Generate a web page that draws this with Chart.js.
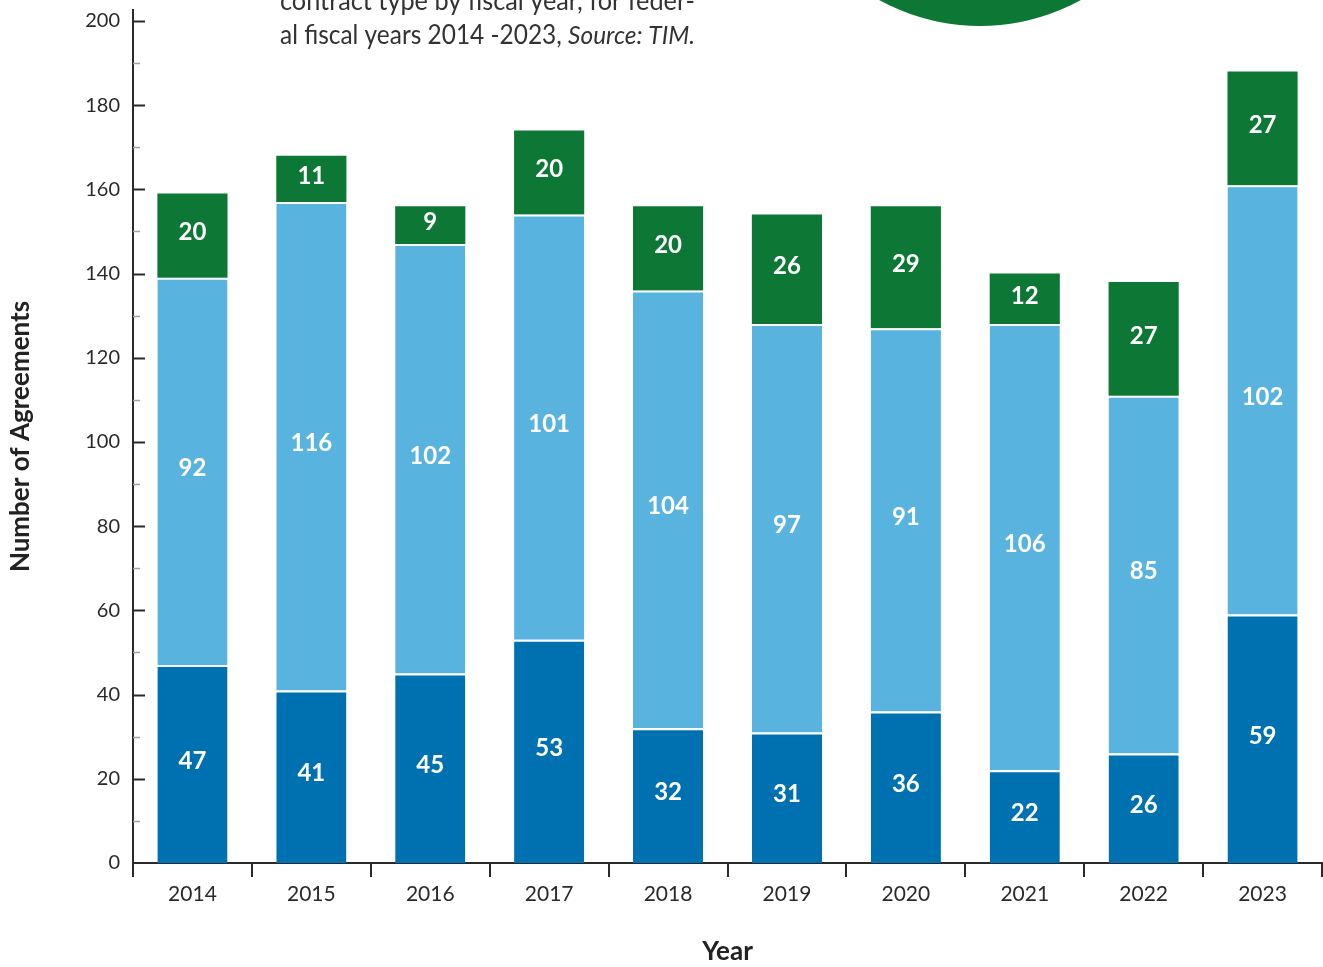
<!DOCTYPE html>
<html>
<head>
<meta charset="utf-8">
<script src="https://cdn.jsdelivr.net/npm/chart.js@4/dist/chart.umd.min.js"></script>
<style>
  html, body { margin: 0; padding: 0; background: #ffffff; }
  canvas { display: block; }
</style>
</head>
<body>
<canvas id="chart" width="1323" height="967"></canvas>
<script>
// Agreements per fiscal year, split into three contract types (stacked)
const years = ['2014', '2015', '2016', '2017', '2018', '2019', '2020', '2021', '2022', '2023'];
const typeA = [47, 41, 45, 53, 32, 31, 36, 22, 26, 59];        // bottom segment
const typeB = [92, 116, 102, 101, 104, 97, 91, 106, 85, 102];  // middle segment
const typeC = [20, 11, 9, 20, 20, 26, 29, 12, 27, 27];         // top segment
const yTicks = [0, 20, 40, 60, 80, 100, 120, 140, 160, 180, 200];

const headerLines = [
  [{ text: 'contract type by fiscal year, for feder-', italic: false }],
  [{ text: 'al fiscal years 2014 -2023, ', italic: false }, { text: 'Source: TIM.', italic: true }]
];

const DARK_BLUE = '#0071b0';
const LIGHT_BLUE = '#59b3df';
const GREEN = '#0d7836';
const FONT = 'Lato, "Open Sans", sans-serif';

// Decorative circle and caption text behind the plot
const backdrop = {
  id: 'backdrop',
  beforeDraw(chart) {
    const ctx = chart.ctx;
    ctx.save();
    ctx.fillStyle = GREEN;
    ctx.beginPath();
    ctx.arc(980, -183, 209, 0, Math.PI * 2);
    ctx.fill();

    ctx.fillStyle = '#333333';
    ctx.textBaseline = 'alphabetic';
    const baselines = [10, 44];
    const targetWidth = 415;
    headerLines.forEach((parts, i) => {
      let total = 0;
      parts.forEach(p => {
        ctx.font = (p.italic ? 'italic ' : '') + '26px ' + FONT;
        total += ctx.measureText(p.text).width;
      });
      const sx = targetWidth / total;
      ctx.save();
      ctx.translate(280, baselines[i]);
      ctx.scale(sx, 1);
      let x = 0;
      parts.forEach(p => {
        ctx.font = (p.italic ? 'italic ' : '') + '26px ' + FONT;
        ctx.fillText(p.text, x, 0);
        x += ctx.measureText(p.text).width;
      });
      ctx.restore();
    });
    ctx.restore();
  }
};

// Value labels centred in each stacked segment
const segmentLabels = {
  id: 'segmentLabels',
  afterDatasetsDraw(chart) {
    const ctx = chart.ctx;
    ctx.save();
    ctx.fillStyle = '#ffffff';
    ctx.font = 'bold 24px ' + FONT;
    ctx.textAlign = 'center';
    ctx.textBaseline = 'middle';
    chart.data.datasets.forEach((ds, di) => {
      const meta = chart.getDatasetMeta(di);
      meta.data.forEach((bar, i) => {
        const v = ds.data[i];
        const cy = (bar.y + bar.base) / 2 - 3;
        ctx.fillText(String(v), bar.x, cy);
      });
    });
    ctx.restore();
  }
};

// Major and minor tick marks on the inner side of the value axis
const innerTicks = {
  id: 'innerTicks',
  afterDraw(chart) {
    const y = chart.scales.y;
    const ctx = chart.ctx;
    const x0 = chart.chartArea.left;
    ctx.save();
    for (let v = 10; v <= 200; v += 10) {
      const py = Math.round(y.getPixelForValue(v)) + 0.5;
      const major = v % 20 === 0;
      ctx.beginPath();
      ctx.strokeStyle = major ? '#2a2a2a' : '#a0a0a0';
      ctx.lineWidth = major ? 2 : 1.5;
      ctx.moveTo(x0, py);
      ctx.lineTo(x0 + (major ? 12 : 7), py);
      ctx.stroke();
    }
    ctx.restore();
  }
};

const segBorder = { top: 2, bottom: 0, left: 0, right: 0 };

new Chart(document.getElementById('chart'), {
  type: 'bar',
  data: {
    labels: years,
    datasets: [
      { label: 'A', data: typeA, backgroundColor: DARK_BLUE, borderColor: '#ffffff', borderWidth: segBorder, borderSkipped: false },
      { label: 'B', data: typeB, backgroundColor: LIGHT_BLUE, borderColor: '#ffffff', borderWidth: segBorder, borderSkipped: false },
      { label: 'C', data: typeC, backgroundColor: GREEN, borderColor: '#ffffff', borderWidth: { top: 0, bottom: 0, left: 0, right: 0 }, borderSkipped: false }
    ]
  },
  options: {
    responsive: false,
    animation: false,
    devicePixelRatio: 1,
    layout: { padding: { top: 10, right: 1, left: 0, bottom: 0 } },
    datasets: { bar: { categoryPercentage: 1.0, barPercentage: 0.59 } },
    plugins: {
      legend: { display: false },
      tooltip: { enabled: false }
    },
    scales: {
      x: {
        stacked: true,
        grid: { display: true, drawOnChartArea: false, drawTicks: true, tickLength: 14, color: '#2a2a2a', lineWidth: 2, offset: true },
        border: { display: true, color: '#2a2a2a', width: 2 },
        ticks: { color: '#2a2a2a', font: { family: FONT, size: 21 }, padding: 5, maxRotation: 0 },
        title: { display: true, text: 'Year', color: '#222222', font: { family: FONT, size: 26, weight: 'bold' }, padding: { top: 0, bottom: 0 } },
        afterFit(scale) { scale.height = 104; scale.paddingLeft = 0; scale.paddingRight = 0; }
      },
      y: {
        stacked: true,
        min: 0,
        max: 202.6,
        grid: { display: false, drawTicks: false },
        border: { display: true, color: '#2a2a2a', width: 2 },
        ticks: { color: '#2a2a2a', font: { family: FONT, size: 20 }, padding: 13 },
        afterBuildTicks(scale) { scale.ticks = yTicks.map(v => ({ value: v })); },
        title: { display: true, text: 'Number of Agreements', color: '#222222', font: { family: FONT, size: 26, weight: 'bold' }, padding: { top: 5, bottom: 0 } },
        afterFit(scale) { scale.width = 133; scale.paddingTop = 0; scale.paddingBottom = 0; }
      }
    }
  },
  plugins: [backdrop, segmentLabels, innerTicks]
});
</script>
</body>
</html>
